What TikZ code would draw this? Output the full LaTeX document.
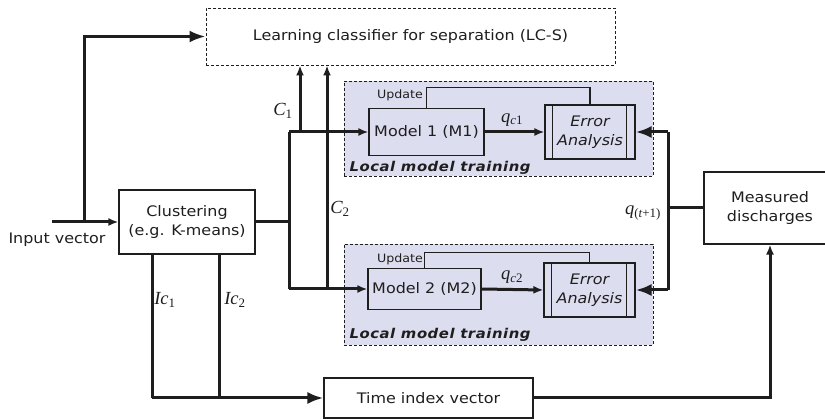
\documentclass[tikz,border=0pt]{standalone}
\usepackage{fontspec}
\setmainfont{DejaVu Sans}[FakeStretch=1.1]
\newfontfamily\lblfont{Liberation Serif}
\usetikzlibrary{arrows.meta,calc}
\definecolor{lmtfill}{RGB}{221,221,240}
\definecolor{ink}{RGB}{30,30,30}
% italic symbol with an upright subscript, in a Times-like face
\newcommand{\symlbl}[2]{{\lblfont\itshape #1}\textsubscript{\lblfont #2}}

\begin{document}
\begin{tikzpicture}[x=1pt,y=-1pt,
  every node/.style={text=ink},
  blk/.style={draw=ink, line width=1.2pt, rectangle, align=center, inner sep=0pt,
    font=\fontsize{14.5}{19}\selectfont},
  dashblk/.style={draw=ink, line width=0.9pt, dash pattern=on 3pt off 2pt, rectangle, inner sep=0pt},
  conn/.style={draw=ink, line width=3pt},
  thinconn/.style={draw=ink, line width=1.2pt},
  bigarr/.style={-{Latex[length=16pt,width=12pt]}},
  smallarr/.style={-{Latex[length=10pt,width=8pt]}},
  mathlbl/.style={font=\fontsize{18.5}{21}\selectfont, inner sep=0pt},
  updlbl/.style={font=\fontsize{11.5}{13}\selectfont},
  lmtlbl/.style={font=\addfontfeatures{LetterSpace=4}\fontsize{13.5}{15}\selectfont\bfseries\itshape, anchor=west},
]
\useasboundingbox (0,0) rectangle (825,419);

% dashed group frames and the classifier
\node[dashblk, fill=lmtfill, minimum width=309pt, minimum height=95pt] (lmt1) at (498.5,128.5) {};
\node[dashblk, fill=lmtfill, minimum width=309pt, minimum height=101pt] (lmt2) at (498.5,294.5) {};
\node[dashblk, minimum width=409pt, minimum height=57pt, font=\fontsize{14.5}{17}\selectfont] (lcs) at (410.5,36.5)
  {Learning classifier for separation (LC-S)};

% blocks
\node[blk, minimum width=136pt, minimum height=64pt] (clus) at (187,222) {Clustering\\(e.g. K-means)};
\node[blk, minimum width=209pt, minimum height=40pt] (tiv) at (428.5,398) {Time index vector};
\node[blk, minimum width=132pt, minimum height=72pt] (meas) at (770,208) {Measured\\discharges};

\node[blk, minimum width=115pt, minimum height=47pt] (m1) at (426.5,132) {Model 1 (M1)};
\node[blk, minimum width=113pt, minimum height=41pt] (m2) at (424.5,289) {Model 2 (M2)};
\node[blk, minimum width=90pt, minimum height=54pt, font=\fontsize{14.5}{19}\selectfont\itshape] (e1) at (590,132) {Error\\Analysis};
\node[blk, minimum width=91pt, minimum height=54pt, font=\fontsize{14.5}{19}\selectfont\itshape] (e2) at (589.5,290) {Error\\Analysis};
\foreach \e in {e1,e2} {
  \draw[thinconn] ([xshift=8pt]\e.north west) -- ([xshift=8pt]\e.south west);
  \draw[thinconn] ([xshift=-9pt]\e.north east) -- ([xshift=-9pt]\e.south east);
}

\node[lmtlbl] at (346,168) {Local model training};
\node[lmtlbl] at (346,335) {Local model training};

% update loops
\draw[thinconn] (m1.north) -- ++(0,-20) -| (e1.north);
\draw[thinconn] (m2.north) -- ++(0,-15) -| (e2.north);
\node[updlbl] at (400,95) {Update};
\node[updlbl] at (400,259) {Update};

% input and clustering
\coordinate (inp) at (52,222);
\coordinate (j0) at (84,222);
\node[font=\fontsize{14.5}{17}\selectfont] (inlbl) at (57,240) {Input vector};
\draw[conn, smallarr] (inp) -- (clus.west);
\draw[conn, bigarr] (j0) |- (lcs.west);

% cluster outputs to local models
\coordinate (bus) at (289,222);
\coordinate (bt) at (289,132);
\coordinate (bb) at (289,289);
\draw[conn] (clus.east) -- (bus);
\draw[conn] (bt) -- (bb);
\draw[conn, smallarr] (bt) -- (m1.west);
\draw[conn, smallarr] (bb) -- (m2.west);
\coordinate (c1) at (300,132);
\coordinate (c2) at (327,289);
\draw[conn, smallarr] (c1) -- (c1 |- lcs.south);
\draw[conn, smallarr] (c2) -- (c2 |- lcs.south);
\node[mathlbl] at (283,111) {\symlbl{C}{1}};
\node[mathlbl] at (340,209) {\symlbl{C}{2}};

% model outputs
\draw[conn, smallarr] (m1.east) -- (e1.west);
\draw[conn, smallarr] (m2.east) -- (e2.west);
\node[mathlbl] at (512,120) {\symlbl{q}{\itshape c\upshape 1}};
\node[mathlbl] at (512,277) {\symlbl{q}{\itshape c\upshape 2}};

% measured discharges feed the error analysis
\coordinate (qj) at (668,208);
\coordinate (qt) at (668,132);
\coordinate (qb) at (668,290);
\draw[conn] (meas.west) -- (qj);
\draw[conn] (qt) -- (qb);
\draw[conn, bigarr] (qt) -- (e1.east);
\draw[conn, bigarr] (qb) -- (e2.east);
\node[mathlbl] at (643,213) {\symlbl{q}{(\itshape t\upshape +1)}};

% time indices
\coordinate (ic1) at (152,398);
\coordinate (ic2) at (219,398);
\draw[conn] (ic1 |- clus.south) -- (ic1);
\draw[conn] (ic2 |- clus.south) -- (ic2);
\draw[conn, bigarr] (ic1) -- (tiv.west);
\draw[conn, smallarr] (tiv.east) -| (meas.south);
\node[mathlbl] at (165,300) {\symlbl{Ic}{1}};
\node[mathlbl] at (235,300) {\symlbl{Ic}{2}};
\end{tikzpicture}
\end{document}
